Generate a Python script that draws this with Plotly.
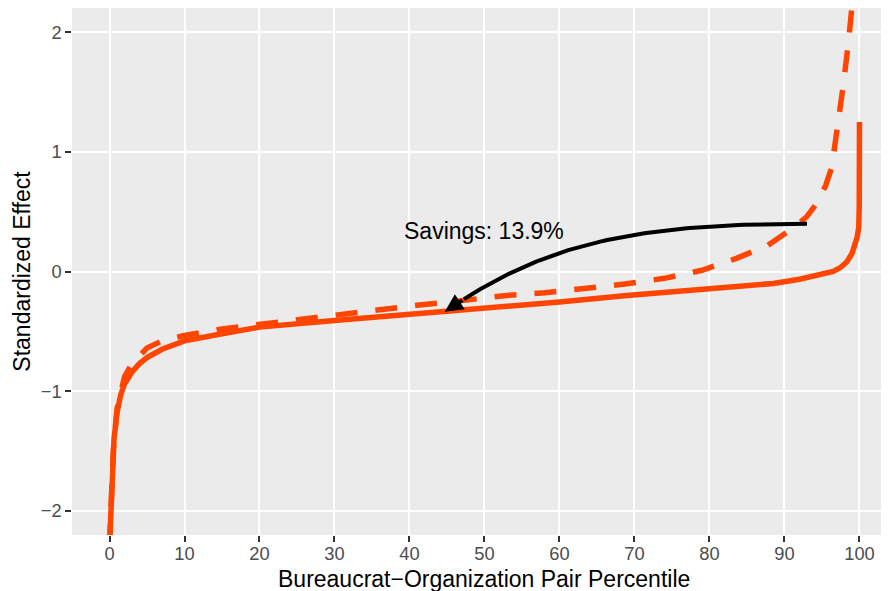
import numpy as np
import plotly.graph_objects as go

# ---- data ----
solid_pct = [0, 0.2, 0.4, 0.6, 1, 1.5, 2, 3, 4, 5, 7, 10, 15, 20, 30, 40, 44, 50, 60, 69,
             80, 88.5, 92, 94.7, 96.5, 97.5, 98.3, 99, 99.4, 99.7, 99.9, 99.97, 100]
solid_val = [-2.3, -1.95, -1.65, -1.4, -1.18, -1.03, -0.94, -0.84, -0.77, -0.72, -0.65,
             -0.58, -0.52, -0.465, -0.41, -0.36, -0.335, -0.305, -0.255, -0.2,
             -0.15, -0.1, -0.065, -0.03, 0.0, 0.035, 0.08, 0.15, 0.22, 0.29, 0.37, 0.55, 1.25]

dashed_pct = [0, 0.5, 1, 1.5, 2, 3, 5, 7, 10, 15, 20, 30, 36.5, 41.3, 46, 53, 58, 63,
              68.7, 74, 79, 83.6, 87.8, 91.4, 93, 94.3, 95.5, 96.3, 97.1, 97.8, 98.5,
              99.1, 99.6, 100]
dashed_val = [-2.3, -1.5, -1.15, -1.0, -0.88, -0.77, -0.64, -0.58, -0.535, -0.48, -0.44,
              -0.365, -0.31, -0.28, -0.25, -0.2, -0.178, -0.146, -0.105, -0.057, 0.01,
              0.11, 0.22, 0.375, 0.46, 0.57, 0.72, 0.87, 1.2, 1.54, 1.9, 2.2, 2.6, 3.2]

x_ticks = [0, 10, 20, 30, 40, 50, 60, 70, 80, 90, 100]
y_ticks = [-2, -1, 0, 1, 2]

x_title = "Bureaucrat\u2212Organization Pair Percentile"
y_title = "Standardized Effect"
label_text = "Savings: 13.9%"
label_pos = (50, 0.34)
# curved arrow: cubic Bezier (start, two control points, tip)
arrow_start = (93, 0.4)
arrow_ctrl1 = (67.7, 0.4)
arrow_ctrl2 = (57.0, 0.186)
arrow_end = (44.7, -0.336)

COL = "#FF4500"
FONT = "Liberation Sans, Arial"

# layout geometry (page body has an 8px margin, so the figure is 8px smaller)
W, H = 881, 583
ML, MR, MT, MB = 64, 5, 0, 56
XR = [-5, 103.27]
YR = [-2.203, 2.203]

fig = go.Figure()
fig.add_trace(go.Scatter(x=dashed_pct, y=dashed_val, mode="lines",
                         line=dict(color=COL, width=5.5, dash="22px,18px"),
                         showlegend=False, hoverinfo="skip"))
fig.add_trace(go.Scatter(x=solid_pct, y=solid_val, mode="lines",
                         line=dict(color=COL, width=5.5),
                         showlegend=False, hoverinfo="skip"))

P = [np.array(p, dtype=float) for p in (arrow_start, arrow_ctrl1, arrow_ctrl2, arrow_end)]
t = np.linspace(0, 0.93, 80)[:, None]
curve = ((1 - t) ** 3) * P[0] + 3 * t * (1 - t) ** 2 * P[1] + 3 * t ** 2 * (1 - t) * P[2] + t ** 3 * P[3]
fig.add_trace(go.Scatter(x=curve[:, 0], y=curve[:, 1], mode="lines",
                         line=dict(color="black", width=4),
                         showlegend=False, hoverinfo="skip"))
fig.add_annotation(x=arrow_end[0], y=arrow_end[1], ax=curve[-1, 0], ay=curve[-1, 1],
                   xref="x", yref="y", axref="x", ayref="y", text="",
                   showarrow=True, arrowhead=2, arrowsize=0.9, arrowwidth=4,
                   arrowcolor="black", standoff=0)
fig.add_annotation(x=label_pos[0], y=label_pos[1], xref="x", yref="y",
                   text=label_text, showarrow=False,
                   font=dict(family=FONT, size=23, color="black"))
# x-axis title (placed as in the reference)
fig.add_annotation(x=0.507, y=-0.083, xref="paper", yref="paper",
                   xanchor="center", yanchor="middle", text=x_title, showarrow=False,
                   font=dict(family=FONT, size=23, color="black"))

axis_common = dict(showgrid=True, gridcolor="white", gridwidth=2.2, zeroline=False,
                   ticks="outside", ticklen=5.7, tickwidth=2.2, tickcolor="#333333",
                   tickfont=dict(family=FONT, size=18.3, color="#4D4D4D"),
                   showline=False)
fig.update_xaxes(range=XR, tickvals=x_ticks, ticktext=[str(v) for v in x_ticks],
                 ticklabelstandoff=-4, **axis_common)
fig.update_yaxes(range=YR, tickvals=y_ticks,
                 ticktext=[("\u2212" + str(-v)) if v < 0 else str(v) for v in y_ticks],
                 title=dict(text=y_title,
                            font=dict(family=FONT, size=23, color="black"),
                            standoff=3),
                 **axis_common)
fig.update_layout(width=W, height=H,
                  margin=dict(l=ML, r=MR, t=MT, b=MB, autoexpand=False),
                  plot_bgcolor="#EBEBEB", paper_bgcolor="white")
fig.write_html("out.html")
